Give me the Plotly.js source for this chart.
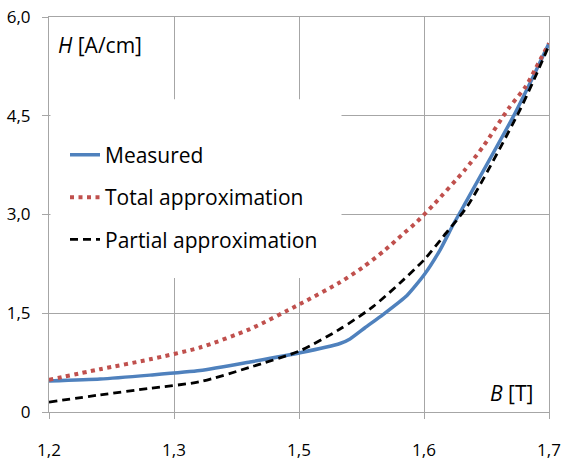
<!DOCTYPE html>
<html>
<head>
<meta charset="utf-8">
<script src="https://cdn.plot.ly/plotly-3.0.1.min.js"></script>
<style>html,body{margin:0;padding:0;background:#fff;}#chart{width:565px;height:461px;}</style>
</head>
<body>
<div id="chart"></div>
<script>
// x positions along the B axis (tick slots 0..4 labelled below)
const xTickVals = [0, 1, 2, 3, 4];
const xTickText = ["1,2", "1,3", "1,5", "1,6", "1,7"];
const yTickVals = [0, 1.5, 3, 4.5, 6];
const yTickText = ["0", "1,5", "3,0", "4,5", "6,0"];

const measuredX = [0, 0.408, 0.808, 1.208, 1.608, 2.008, 2.328, 2.408, 2.528, 2.672, 2.864, 3.0, 3.128, 3.232, 3.312, 3.712, 3.872, 4.0];
const measuredY = [0.47, 0.50, 0.56, 0.63, 0.76, 0.90, 1.04, 1.11, 1.28, 1.48, 1.77, 2.08, 2.46, 2.84, 3.11, 4.48, 5.09, 5.60];

const totalX = [0, 0.408, 0.808, 1.208, 1.608, 2.008, 2.328, 2.512, 2.688, 2.824, 2.944, 3.072, 3.328, 3.472, 3.68, 3.816, 3.896, 4.0];
const totalY = [0.49, 0.65, 0.80, 0.98, 1.26, 1.64, 1.97, 2.20, 2.46, 2.69, 2.89, 3.14, 3.68, 4.03, 4.62, 4.95, 5.23, 5.60];

const partialX = [0, 0.408, 0.808, 1.208, 1.608, 2.008, 2.328, 2.592, 2.808, 3.0, 3.152, 3.352, 3.768, 3.904, 4.0];
const partialY = [0.15, 0.26, 0.36, 0.46, 0.68, 0.93, 1.26, 1.60, 1.96, 2.31, 2.66, 3.14, 4.59, 5.15, 5.57];

const seriesNames = ["Measured", "Total approximation", "Partial approximation"];

const grid = "#a6a6a6";
const traces = [
  {x: measuredX, y: measuredY, name: seriesNames[0], legendgroup: "a", mode: "lines",
   line: {color: "#4F81BD", width: 3.5, shape: "spline", smoothing: 0.5}},
  {x: totalX, y: totalY, name: seriesNames[1], legendgroup: "b", mode: "lines",
   line: {color: "#C0504D", width: 4, dash: "4px,4.5px", shape: "spline", smoothing: 0.7}},
  {x: partialX, y: partialY, name: seriesNames[2], legendgroup: "c", mode: "lines",
   line: {color: "#000000", width: 2.8, dash: "8px,5px", shape: "spline", smoothing: 0.7}}
];

const layout = {
  width: 565, height: 461,
  margin: {l: 49, r: 16, t: 17, b: 49},
  paper_bgcolor: "#fff", plot_bgcolor: "#fff",
  font: {family: "Open Sans, Liberation Sans, Arial, sans-serif", color: "#000"},
  showlegend: true,
  legend: {
    x: 0.032, xanchor: "left", y: 0.702, yanchor: "top",
    bgcolor: "rgba(0,0,0,0)", borderwidth: 0,
    font: {size: 21, color: "#000"},
    traceorder: "grouped", tracegroupgap: 12
  },
  xaxis: {
    range: [0, 4], tickmode: "array", tickvals: xTickVals, ticktext: xTickText,
    showgrid: true, gridcolor: grid, gridwidth: 1, zeroline: false,
    showline: true, linecolor: grid, linewidth: 1, mirror: true,
    ticks: "outside", ticklen: 6, tickcolor: grid,
    tickfont: {size: 17, color: "#000"}, ticklabelstandoff: 17, fixedrange: true
  },
  yaxis: {
    range: [0, 6], tickmode: "array", tickvals: yTickVals, ticktext: yTickText,
    showgrid: true, gridcolor: grid, gridwidth: 1, zeroline: false,
    showline: true, linecolor: grid, linewidth: 1, mirror: true,
    ticks: "outside", ticklen: 6, tickcolor: grid,
    tickfont: {size: 17, color: "#000"}, ticklabelstandoff: 8, fixedrange: true
  },
  shapes: [
    {type: "rect", xref: "paper", yref: "paper", x0: 0.003, x1: 0.585, y0: 0.339, y1: 0.792,
     fillcolor: "#ffffff", line: {width: 0}, layer: "above"}
  ],
  annotations: [
    {xref: "paper", yref: "paper", x: 0.014, y: 0.93, xanchor: "left", yanchor: "middle",
     text: "<i>H</i> [A/cm]", showarrow: false, font: {size: 21, color: "#000"}},
    {xref: "paper", yref: "paper", x: 0.972, y: 0.048, xanchor: "right", yanchor: "middle",
     text: "<i>B</i> [T]", showarrow: false, font: {size: 21, color: "#000"}}
  ]
};

Plotly.newPlot("chart", traces, layout, {displayModeBar: false, staticPlot: true});
</script>
</body>
</html>
